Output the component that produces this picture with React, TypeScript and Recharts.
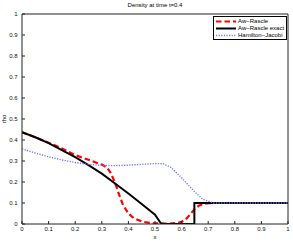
import { LineChart, Line, XAxis, YAxis, Legend } from 'recharts'

// axis ticks (MATLAB style 0..1 in 0.1 steps)
const xTicks = [0, 0.1, 0.2, 0.3, 0.4, 0.5, 0.6, 0.7, 0.8, 0.9, 1]
const yTicks = [0, 0.1, 0.2, 0.3, 0.4, 0.5, 0.6, 0.7, 0.8, 0.9, 1]

// Aw-Rascle numerical (red dashed)
const awX = [0, 0.05, 0.1, 0.15, 0.2, 0.25, 0.28, 0.3, 0.32, 0.335, 0.345, 0.355, 0.365, 0.38, 0.4, 0.42, 0.45, 0.48, 0.5, 0.55, 0.58, 0.6, 0.62, 0.635, 0.65, 0.665, 0.68, 0.7, 0.72, 1]
const awRho = [0.437, 0.413, 0.387, 0.36, 0.328, 0.306, 0.292, 0.283, 0.268, 0.24, 0.21, 0.178, 0.14, 0.09, 0.05, 0.028, 0.012, 0.005, 0.003, 0.002, 0.004, 0.01, 0.028, 0.05, 0.072, 0.087, 0.095, 0.099, 0.1, 0.1]

// Aw-Rascle exact (black solid)
const exactX = [0, 0.05, 0.1, 0.15, 0.2, 0.25, 0.3, 0.35, 0.4, 0.45, 0.5, 0.524, 0.648, 0.648, 1]
const exactRho = [0.437, 0.413, 0.385, 0.352, 0.318, 0.28, 0.24, 0.193, 0.145, 0.095, 0.044, 0, 0, 0.1, 0.1]

// Hamilton-Jacobi (blue dotted)
const hjX = [0, 0.05, 0.1, 0.15, 0.2, 0.25, 0.3, 0.35, 0.4, 0.45, 0.5, 0.53, 0.56, 0.6, 0.65, 0.68, 0.72, 1]
const hjRho = [0.358, 0.338, 0.32, 0.305, 0.293, 0.284, 0.279, 0.278, 0.28, 0.284, 0.288, 0.287, 0.27, 0.22, 0.152, 0.118, 0.1, 0.1]

const toPoints = (xs: number[], ys: number[]) => xs.map((x, i) => ({ x, rho: ys[i] }))

const series = [
  { name: 'Aw\u2212Rascle', data: toPoints(awX, awRho), color: '#ff0000', width: 2.2, dash: '5.5 3' },
  { name: 'Aw\u2212Rascle exact', data: toPoints(exactX, exactRho), color: '#000000', width: 2, dash: undefined },
  { name: 'Hamilton\u2212Jacobi', data: toPoints(hjX, hjRho), color: '#7373ff', width: 1.4, dash: '1.2 1.4' },
]

const font = '"Liberation Sans", Arial, sans-serif'
const tickStyle = { fontSize: 6, fill: '#111', fontFamily: font }
const fmt = (v: number) => String(Math.round(v * 10) / 10)

const YLabel = ({ viewBox }: any) => {
  const cy = viewBox.y + viewBox.height / 2
  return (
    <text x={6} y={cy} transform={`rotate(-90, 6, ${cy})`} textAnchor="middle" fontSize={6} fontFamily={font} fill="#000">
      rho
    </text>
  )
}

const LegendBox = () => (
  <div
    style={{
      boxSizing: 'border-box',
      width: 74,
      height: 24,
      border: '1px solid #000',
      background: '#fff',
      fontFamily: font,
      fontSize: 6,
      lineHeight: '7px',
      padding: '1px 0 0 1px',
    }}
  >
    {series.map((s) => (
      <div key={s.name} style={{ display: 'flex', alignItems: 'center', height: 7 }}>
        <svg width={22} height={7} style={{ flex: 'none' }}>
          <line x1={1} y1={3.5} x2={21} y2={3.5} stroke={s.color} strokeWidth={s.width} strokeDasharray={s.dash} />
        </svg>
        <span style={{ marginLeft: 1, whiteSpace: 'nowrap' }}>{s.name}</span>
      </div>
    ))}
  </div>
)

export default function App() {
  return (
    <div style={{ position: 'absolute', left: 0, top: 0, background: '#fff' }}>
      <LineChart width={293} height={242} margin={{ top: 13, right: 4, bottom: 0, left: 0 }} style={{ fontFamily: font }}>
        <XAxis
          xAxisId="b"
          dataKey="x"
          type="number"
          domain={[0, 1]}
          ticks={xTicks}
          interval={0}
          tickFormatter={fmt}
          height={18}
          tickSize={-3}
          tickMargin={6}
          stroke="#222"
          tick={tickStyle}
          allowDataOverflow
          label={{ value: 'x', position: 'insideBottom', offset: 3, fontSize: 6, fill: '#000' }}
        />
        <XAxis
          xAxisId="t"
          orientation="top"
          type="number"
          domain={[0, 1]}
          ticks={xTicks}
          interval={0}
          height={1}
          tickSize={-3}
          stroke="#222"
          tick={{ fill: 'none', fontSize: 6 }}
          label={{ value: 'Density at time t=0.4', position: 'top', offset: 6, fontSize: 6, fill: '#000' }}
        />
        <YAxis
          yAxisId="l"
          type="number"
          domain={[0, 1]}
          ticks={yTicks}
          interval={0}
          tickFormatter={fmt}
          width={22}
          tickSize={-3}
          tickMargin={7.5}
          stroke="#222"
          tick={tickStyle}
          allowDataOverflow
          label={{ content: YLabel }}
        />
        <YAxis
          yAxisId="r"
          orientation="right"
          type="number"
          domain={[0, 1]}
          ticks={yTicks}
          interval={0}
          width={1}
          tickSize={-3}
          stroke="#222"
          tick={{ fill: 'none', fontSize: 6 }}
        />
        {series.map((s) => (
          <Line
            key={s.name}
            xAxisId="b"
            yAxisId="l"
            data={s.data}
            dataKey="rho"
            name={s.name}
            type="linear"
            stroke={s.color}
            strokeWidth={s.width}
            strokeDasharray={s.dash}
            dot={false}
            activeDot={false}
            isAnimationActive={false}
          />
        ))}
        <Legend
          verticalAlign="middle"
          content={<LegendBox />}
          wrapperStyle={{ left: 213, top: 16, width: 74, height: 24 }}
        />
      </LineChart>
    </div>
  )
}
